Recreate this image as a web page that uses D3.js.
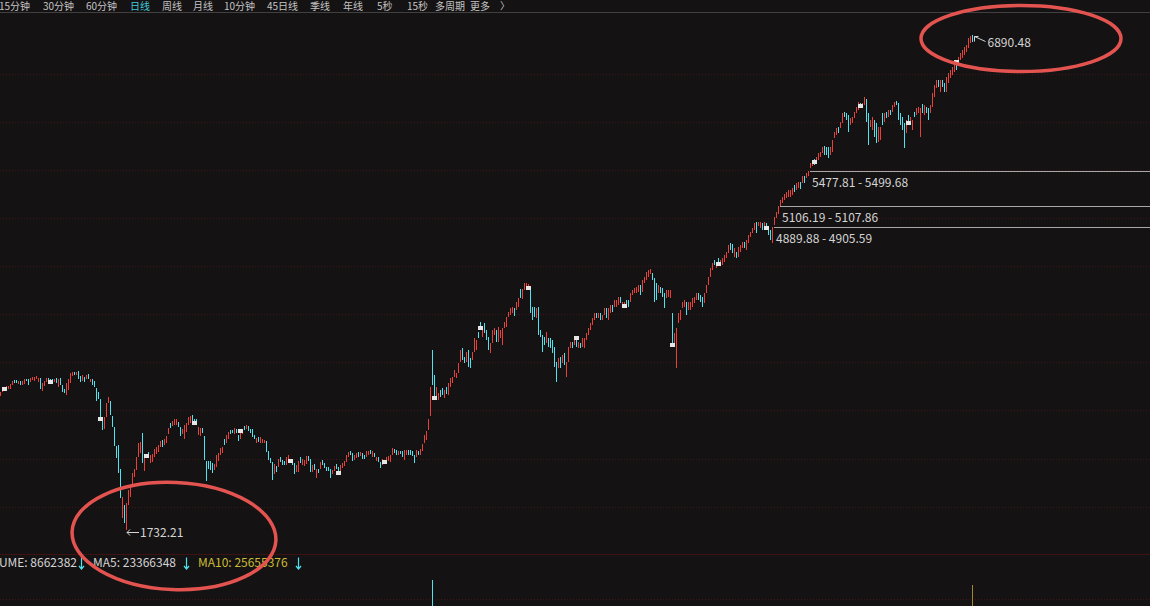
<!DOCTYPE html>
<html><head><meta charset="utf-8">
<script src="https://cdn.jsdelivr.net/npm/d3@7/dist/d3.min.js"></script>
<style>
html,body{margin:0;padding:0;background:#141213;overflow:hidden}
svg{display:block}
text{font-family:"Noto Sans CJK SC","Noto Sans",sans-serif}
</style></head><body>
<svg id="c" width="1150" height="606"></svg>
<script>
// ---------------- DATA ----------------
const periods = ["15分钟","30分钟","60分钟","日线","周线","月线","10分钟","45日线","季线","年线","5秒","15秒","多周期","更多"];
const activePeriod = "日线";

const highs = [3170,3212,3222,3233,3233,3253,3285,3295,3292,3285,
3285,3281,3305,3305,3303,3316,3326,3324,3337,3316,
3316,3264,3285,3316,3316,3305,3303,3305,3316,3305,
3316,3243,3201,3264,3305,3368,3378,3378,3376,3389,
3337,3347,3326,3347,3357,3305,3305,3285,3212,3170,
3097,2909,2909,3056,3118,3077,2920,2805,2608,2618,
2368,2076,1993,2014,2149,2191,2326,2368,2493,2639,
2649,2743,2514,2524,2545,2514,2524,2576,2597,2618,
2660,2670,2680,2712,2795,2847,2868,2889,2891,2858,
2805,2784,2826,2847,2909,2920,2930,2889,2887,2805,
2795,2795,2712,2451,2451,2449,2430,2420,2514,2534,
2587,2597,2680,2722,2753,2774,2772,2795,2784,2722,
2743,2774,2816,2826,2814,2784,2782,2722,2691,2701,
2699,2680,2670,2660,2555,2482,2440,2420,2399,2472,
2493,2461,2451,2493,2514,2472,2449,2430,2409,2451,
2493,2472,2461,2503,2503,2472,2409,2420,2368,2368,
2440,2461,2430,2389,2387,2368,2357,2399,2420,2389,
2409,2430,2451,2514,2545,2555,2534,2514,2534,2545,
2545,2534,2514,2555,2557,2566,2555,2534,2493,2493,
2440,2472,2461,2493,2503,2514,2587,2576,2566,2555,
2555,2553,2566,2568,2566,2564,2555,2514,2566,2555,
2576,2628,2722,2764,2889,3222,3608,3347,3222,3160,
3191,3212,3191,3222,3264,3316,3326,3399,3368,3472,
3608,3629,3535,3587,3608,3524,3587,3733,3712,3795,
3899,3816,3889,3816,3743,3681,3816,3837,3814,3847,
3816,3837,3899,3951,4004,4045,4056,4045,4108,4149,
4243,4243,4306,4304,4295,4264,4056,4054,4045,4056,
3816,3764,3743,3795,3733,3731,3712,3639,3483,3524,
3535,3556,3576,3483,3639,3691,3689,3733,3712,3691,
3681,3733,3735,3785,3837,3889,3941,3993,3993,3995,
3993,3972,4045,4045,4047,4077,4077,4129,4131,4160,
4160,4108,4110,4129,4127,4202,4233,4254,4264,4285,
4285,4337,4368,4420,4441,4452,4410,4358,4306,4285,
4264,4254,4202,4233,4231,4235,3993,3785,3837,3993,
4025,4108,4129,4108,4110,4106,4149,4160,4202,4200,
4181,4160,4202,4285,4368,4462,4514,4546,4525,4566,
4546,4566,4598,4629,4702,4723,4712,4671,4629,4681,
4702,4733,4735,4754,4806,4838,4879,4931,4942,4942,
4944,4931,4940,4933,4890,4858,4889.88,4993,5046,5106.19,
5171,5202,5233,5254,5275,5277,5296,5327,5348,5358,
5356,5421,5419,5452,5477.81,5557,5588,5598,5619,5661,
5671,5723,5733,5723,5721,5723,5796,5879,5921,5931,
5983,6077,6088,6077,6056,6025,6036,6088,6140,6192,
6182,6180,6244,6223,6077,6004,6036,6004,5973,5931,
5933,6077,6075,6088,6109,6107,6161,6192,6202,6182,
6077,6036,5973,6004,6056,6036,6004,6088,6130,6140,
6130,6171,6161,6140,6130,6161,6286,6369,6421,6419,
6421,6421,6390,6452,6494,6525,6557,6598,6609,6661,
6702,6734,6765,6786,6859,6880,6890.48];

const lows = [3128,3170,3181,3191,3201,3201,3243,3264,3262,3253,
3243,3246,3253,3285,3243,3274,3295,3285,3305,3274,
3201,3181,3233,3274,3285,3264,3262,3274,3264,3222,
3243,3170,3160,3139,3191,3264,3337,3347,3345,3305,
3274,3285,3274,3305,3305,3274,3243,3222,3077,3097,
2909,2774,2784,2909,3056,2930,2805,2608,2482,2326,
2066,1857,1805,1732.21,1993,2076,2180,2284,2357,2493,
2534,2430,2347,2482,2493,2430,2440,2493,2524,2545,
2597,2597,2618,2639,2733,2795,2816,2826,2830,2805,
2712,2733,2680,2753,2826,2847,2868,2826,2837,2722,
2712,2743,2461,2243,2368,2357,2326,2357,2389,2451,
2514,2534,2618,2639,2680,2733,2743,2733,2743,2660,
2680,2733,2774,2784,2764,2743,2701,2680,2639,2649,
2639,2641,2639,2545,2461,2430,2253,2316,2337,2389,
2440,2409,2409,2409,2461,2430,2407,2316,2337,2337,
2430,2409,2399,2420,2451,2337,2337,2357,2274,2326,
2368,2409,2378,2347,2345,2274,2316,2347,2368,2305,
2347,2378,2399,2440,2493,2514,2451,2461,2482,2493,
2503,2472,2472,2493,2516,2524,2493,2493,2451,2440,
2378,2409,2420,2440,2451,2440,2514,2534,2514,2514,
2524,2493,2461,2514,2514,2512,2503,2430,2493,2514,
2514,2555,2639,2670,2774,2920,3243,3118,3087,3087,
3118,3139,3108,3149,3139,3222,3264,3326,3316,3368,
3483,3503,3472,3483,3430,3420,3503,3587,3608,3733,
3816,3743,3785,3712,3608,3576,3681,3764,3691,3691,
3733,3660,3837,3847,3951,3972,3993,3962,4025,4056,
4149,4139,4233,4235,4233,3993,3920,3951,3941,3764,
3743,3587,3660,3681,3639,3629,3576,3430,3274,3420,
3420,3472,3451,3326,3483,3629,3627,3660,3639,3629,
3629,3639,3629,3712,3764,3816,3868,3920,3941,3943,
3920,3920,3972,3941,3920,3993,4004,4056,4058,4077,
4098,4056,4058,4045,4056,4108,4181,4202,4202,4212,
4181,4212,4306,4337,4368,4400,4337,4108,4129,4202,
4202,4160,4045,4149,4160,4149,3639,3639,3420,3889,
3920,4045,4056,3972,4025,4023,4056,4098,4129,4127,
4108,4056,4098,4202,4285,4368,4441,4493,4462,4514,
4493,4493,4525,4566,4619,4650,4619,4577,4566,4577,
4629,4671,4673,4650,4723,4785,4827,4858,4827,4895,
4883,4858,4888,4860,4806,4754,4723,4905.59,4983,5025,
5107.86,5140,5171,5192,5202,5204,5223,5254,5275,5296,
5285,5348,5346,5400,5421,5499.68,5525,5535,5557,5588,
5619,5661,5640,5640,5608,5640,5671,5817,5848,5869,
5921,5973,6036,6004,5879,5952,5973,6025,6077,6109,
6140,6130,6161,5983,5744,5931,5900,5827,5765,5775,
5796,5952,5983,6025,6036,6056,6088,6140,6161,6004,
5952,5900,5713,5869,5983,5952,5900,6036,6056,6077,
5827,6077,6056,6077,6004,6077,6140,6244,6338,6348,
6296,6348,6296,6296,6390,6442,6473,6504,6525,6598,
6630,6650,6682,6713,6755,6807,6817];

const opens = [3128,3170,3222,3191,3201,3201,3243,3295,3292,3253,
3285,3246,3253,3305,3303,3274,3295,3285,3305,3274,
3316,3181,3233,3274,3316,3305,3303,3274,3316,3222,
3316,3243,3201,3139,3191,3264,3337,3378,3345,3389,
3337,3285,3326,3305,3357,3274,3305,3285,3212,3170,
3097,2909,2784,2909,3056,3077,2920,2805,2608,2618,
2368,1857,1993,1760,1993,2076,2180,2284,2357,2493,
2534,2743,2347,2524,2545,2430,2440,2493,2524,2545,
2597,2670,2618,2639,2733,2847,2816,2826,2830,2858,
2805,2733,2680,2753,2826,2847,2930,2889,2887,2722,
2712,2795,2712,2451,2451,2449,2430,2357,2389,2451,
2514,2534,2680,2639,2680,2774,2772,2733,2784,2722,
2680,2733,2816,2784,2814,2784,2782,2722,2639,2701,
2639,2641,2639,2660,2555,2482,2440,2316,2399,2389,
2493,2461,2451,2409,2461,2430,2449,2430,2337,2337,
2493,2409,2399,2420,2503,2472,2337,2420,2274,2368,
2368,2461,2430,2389,2387,2368,2316,2347,2420,2389,
2347,2378,2399,2440,2493,2555,2534,2461,2482,2545,
2503,2534,2514,2493,2516,2566,2493,2534,2451,2493,
2440,2409,2420,2440,2451,2440,2514,2576,2566,2514,
2555,2553,2461,2514,2566,2564,2555,2514,2493,2555,
2514,2555,2639,2670,2774,2920,3608,3347,3087,3087,
3191,3212,3108,3222,3139,3222,3264,3326,3316,3368,
3483,3629,3535,3483,3608,3524,3503,3587,3608,3795,
3899,3743,3889,3816,3743,3576,3681,3764,3814,3691,
3733,3660,3837,3847,3951,3972,3993,4045,4025,4056,
4243,4139,4233,4235,4233,4264,4056,4054,3941,4056,
3816,3764,3743,3681,3733,3731,3712,3639,3483,3420,
3535,3472,3576,3326,3483,3629,3689,3660,3712,3629,
3681,3639,3629,3712,3764,3816,3868,3920,3993,3943,
3993,3920,3972,4045,3920,3993,4077,4056,4058,4077,
4160,4056,4058,4129,4127,4108,4181,4202,4202,4212,
4285,4212,4306,4337,4368,4400,4410,4358,4306,4202,
4264,4254,4202,4149,4160,4149,3993,3639,3420,3889,
3920,4045,4056,4108,4025,4023,4056,4098,4129,4200,
4181,4160,4098,4202,4285,4368,4441,4546,4462,4566,
4493,4493,4525,4566,4619,4723,4712,4577,4629,4577,
4629,4671,4735,4650,4723,4785,4827,4858,4942,4895,
4883,4931,4888,4933,4890,4858,4723,4905.59,4983,5025,
5107.86,5140,5171,5192,5202,5204,5223,5327,5275,5296,
5356,5348,5419,5400,5421,5499.68,5525,5598,5557,5588,
5619,5661,5733,5723,5721,5640,5671,5817,5848,5931,
5921,5973,6088,6077,6056,5952,5973,6025,6077,6109,
6182,6130,6161,6223,6077,5931,5900,6004,5973,5775,
5796,6077,5983,6088,6036,6107,6088,6140,6202,6182,
6077,6036,5973,5869,6056,5952,5900,6088,6056,6077,
5827,6171,6056,6140,6130,6077,6140,6244,6338,6419,
6296,6421,6390,6296,6390,6442,6473,6504,6609,6598,
6630,6650,6682,6713,6755,6807,6880];

const closes = [3170,3212,3181,3233,3233,3253,3285,3264,3262,3285,
3243,3281,3305,3285,3243,3316,3326,3324,3337,3316,
3201,3264,3285,3316,3285,3264,3262,3305,3264,3305,
3243,3170,3160,3264,3305,3368,3378,3347,3376,3305,
3274,3347,3274,3347,3305,3305,3243,3222,3077,3097,
2909,2774,2909,3056,3118,2930,2805,2608,2482,2326,
2066,2076,1805,2014,2149,2191,2326,2368,2493,2639,
2649,2430,2514,2482,2493,2514,2524,2576,2597,2618,
2660,2597,2680,2712,2795,2795,2868,2889,2891,2805,
2712,2784,2826,2847,2909,2920,2868,2826,2837,2805,
2795,2743,2461,2243,2368,2357,2326,2420,2514,2534,
2587,2597,2618,2722,2753,2733,2743,2795,2743,2660,
2743,2774,2774,2826,2764,2743,2701,2680,2691,2649,
2699,2680,2670,2545,2461,2430,2253,2420,2337,2472,
2440,2409,2409,2493,2514,2472,2407,2316,2409,2451,
2430,2472,2461,2503,2451,2337,2409,2357,2368,2326,
2440,2409,2378,2347,2345,2274,2357,2399,2368,2305,
2409,2430,2451,2514,2545,2514,2451,2514,2534,2493,
2545,2472,2472,2555,2557,2524,2555,2493,2493,2440,
2378,2472,2461,2493,2503,2514,2587,2534,2514,2555,
2524,2493,2566,2568,2514,2512,2503,2430,2566,2514,
2576,2628,2722,2764,2889,3222,3243,3118,3222,3160,
3118,3139,3191,3149,3264,3316,3326,3399,3368,3472,
3608,3503,3472,3587,3430,3420,3587,3733,3712,3733,
3816,3816,3785,3712,3608,3681,3816,3837,3691,3847,
3816,3837,3899,3951,4004,4045,4056,3962,4108,4149,
4149,4243,4306,4304,4295,3993,3920,3951,4045,3764,
3743,3587,3660,3795,3639,3629,3576,3430,3274,3524,
3420,3556,3451,3483,3639,3691,3627,3733,3639,3691,
3629,3733,3735,3785,3837,3889,3941,3993,3941,3995,
3920,3972,4045,3941,4047,4077,4004,4129,4131,4160,
4098,4108,4110,4045,4056,4202,4233,4254,4264,4285,
4181,4337,4368,4420,4441,4452,4337,4108,4129,4285,
4202,4160,4045,4233,4231,4235,3639,3785,3837,3993,
4025,4108,4129,3972,4110,4106,4149,4160,4202,4127,
4108,4056,4202,4285,4368,4462,4514,4493,4525,4514,
4546,4566,4598,4629,4702,4650,4619,4671,4566,4681,
4702,4733,4673,4754,4806,4838,4879,4931,4827,4942,
4944,4858,4940,4860,4806,4754,4889.88,4993,5046,5106.19,
5171,5202,5233,5254,5275,5277,5296,5254,5348,5358,
5285,5421,5346,5452,5477.81,5557,5588,5535,5619,5661,
5671,5723,5640,5640,5608,5723,5796,5879,5921,5869,
5983,6077,6036,6004,5879,6025,6036,6088,6140,6192,
6140,6180,6244,5983,5744,6004,6036,5827,5765,5931,
5933,5952,6075,6025,6109,6056,6161,6192,6161,6004,
5952,5900,5713,6004,5983,6036,6004,6036,6130,6140,
6130,6077,6161,6077,6004,6161,6286,6369,6421,6348,
6421,6348,6296,6452,6494,6525,6557,6598,6525,6661,
6702,6734,6765,6786,6859,6880,6817];

// price gaps (lower edge, upper edge, bar index where gap starts)
const gapLow  = [4889.88, 5106.19, 5477.81];
const gapHigh = [4905.59, 5107.86, 5499.68];
const gapBar  = [386, 389, 404];

// white event markers: bar index and price
const markerBar   = [2,25,50,73,97,120,145,169,192,217,240,264,288,312,336,359,383,407,430,454,478];
const markerPrice = [3201,3274,2889,2503,2852,2764,2451,2326,2440,3108,3837,4254,3733,4066,3655,4504,4879,5572,6155,5973,6609];

// volume panel
const volumeLast = 8662382, volumeMA5 = 23366348, volumeMA10 = 25655376;
const volumeBar = [216];
const volumeValue = [109000000];

// ---------------- DRAW ----------------
const W = 1150, H = 606;
const RED = "#e8403a", CYAN = "#4fe3f0", TXT = "#d4d4d4";
const svg = d3.select("#c");

// toolbar
const tabX = [-1, 43, 86, 130, 162, 193, 224, 267, 310, 343, 377, 407, 435, 470];
const tb = svg.append("g").attr("font-size", 10);
periods.forEach((p, k) => {
  tb.append("text").attr("x", tabX[k]).attr("y", 9.5)
    .attr("fill", p === activePeriod ? "#45c8dc" : "#c4c4c4").text(p);
});
tb.append("text").attr("x", 500).attr("y", 9.5).attr("fill", "#c4c4c4").text("〉");
svg.append("line").attr("x1", 0).attr("x2", W).attr("y1", 12.5).attr("y2", 12.5)
  .attr("stroke", "#404040").attr("stroke-width", 1);

// grid
const panelTop = 25.6, panelBottom = 554.7;
const gridY = d3.range(1, 11).map(k => panelTop + k * (panelBottom - panelTop) / 11);
svg.append("g").selectAll("line").data(gridY).join("line")
  .attr("x1", 0).attr("x2", W)
  .attr("y1", d => Math.round(d) + 0.5).attr("y2", d => Math.round(d) + 0.5)
  .attr("stroke", "#3e1616").attr("stroke-dasharray", "1,2");
svg.append("line").attr("x1", 0).attr("x2", W).attr("y1", 554.5).attr("y2", 554.5)
  .attr("stroke", "#3e1212");
svg.append("line").attr("x1", 0).attr("x2", W).attr("y1", 599.5).attr("y2", 599.5)
  .attr("stroke", "#3e1616").attr("stroke-dasharray", "1,2");

// scales
const N = highs.length;
const xs = d3.scaleLinear().domain([0, N - 1]).range([0, 972]);
const ys = d3.scaleLinear().domain([d3.min(lows), d3.max(highs)]).range([530, 35]);
const vs = d3.scaleLinear().domain([0, 120000000]).range([700, 568]);

// candles (thin: single line high-low, coloured by direction)
svg.append("g").selectAll("line").data(d3.range(N)).join("line")
  .attr("x1", i => Math.round(xs(i)) + 0.5)
  .attr("x2", i => Math.round(xs(i)) + 0.5)
  .attr("y1", i => Math.round(ys(highs[i])))
  .attr("y2", i => Math.max(Math.round(ys(highs[i])) + 1, Math.round(ys(lows[i]))))
  .attr("stroke-width", 1)
  .style("stroke", i => closes[i] >= opens[i] ? RED : CYAN);

// markers
svg.append("g").attr("shape-rendering", "crispEdges")
  .selectAll("rect").data(markerBar).join("rect")
  .attr("x", (b) => Math.round(xs(b)) - 2)
  .attr("y", (b, k) => Math.round(ys(markerPrice[k])) - 2)
  .attr("width", 5).attr("height", 4).attr("fill", "#e6e6e6");

// gaps
gapLow.forEach((lo, k) => {
  const gx = Math.round(xs(gapBar[k])) + 2;
  const gy = Math.round(ys(lo)) + 0.5;
  svg.append("line").attr("x1", gx).attr("x2", W).attr("y1", gy).attr("y2", gy)
    .attr("stroke", "#a8a8a8");
  svg.append("text").attr("x", gx + 2).attr("y", gy + 15).attr("font-size", 12)
    .attr("fill", TXT).text(`${lo.toFixed(2)} - ${gapHigh[k].toFixed(2)}`);
});

// extreme labels
const hiIdx = d3.maxIndex(highs), loIdx = d3.minIndex(lows);
const hx = Math.round(xs(hiIdx)) + 2.5, hy = Math.round(ys(highs[hiIdx])) + 1.5;
svg.append("path").attr("d", `M${hx},${hy}h4M${hx},${hy}v5M${hx},${hy}L${hx+11},${hy+5}`)
  .attr("stroke", TXT).attr("fill", "none");
svg.append("text").attr("x", hx + 13).attr("y", hy + 10.5).attr("font-size", 12)
  .attr("fill", TXT).text(highs[hiIdx].toFixed(2));
const lx = Math.round(xs(loIdx)) + 1, ly = Math.round(ys(lows[loIdx])) + 2.5;
svg.append("path").attr("d", `M${lx},${ly}H${lx+12}M${lx},${ly}l3,-3M${lx},${ly}l3,3`)
  .attr("stroke", TXT).attr("fill", "none");
svg.append("text").attr("x", lx + 13).attr("y", ly + 4.5).attr("font-size", 12)
  .attr("fill", TXT).text(lows[loIdx].toFixed(2));

// volume bars
svg.append("g").attr("shape-rendering", "crispEdges")
  .selectAll("rect").data(volumeBar).join("rect")
  .attr("x", b => Math.round(xs(b)))
  .attr("y", (b, k) => vs(volumeValue[k]))
  .attr("width", 1)
  .attr("height", (b, k) => 700 - vs(volumeValue[k]))
  .attr("fill", (b) => closes[b] >= opens[b] ? RED : CYAN);
// thin marker line at the latest bar in the volume panel
svg.append("line")
  .attr("x1", Math.round(xs(N - 1)) + 0.5).attr("x2", Math.round(xs(N - 1)) + 0.5)
  .attr("y1", 585).attr("y2", H)
  .attr("stroke", "#a5842e").attr("stroke-width", 1);

// volume texts with down arrows
const vt = svg.append("g").attr("font-size", 12);
const arrow = (cx) => vt.append("path")
  .attr("d", `M${cx},557.5V569M${cx-2.5},566L${cx},569L${cx+2.5},566`)
  .attr("stroke", CYAN).attr("fill", "none").attr("stroke-width", 1.2);
vt.append("text").attr("x", 77).attr("y", 566.5).attr("text-anchor", "end").attr("fill", TXT)
  .text("VOLUME: " + volumeLast);
arrow(81.5);
vt.append("text").attr("x", 93).attr("y", 566.5).attr("fill", TXT).text("MA5: " + volumeMA5);
arrow(186.5);
vt.append("text").attr("x", 198).attr("y", 566.5).attr("fill", "#cbbb35").text("MA10: " + volumeMA10);
arrow(298.5);

// annotation ellipses
svg.append("ellipse").attr("cx", 1021).attr("cy", 38.5).attr("rx", 100).attr("ry", 33)
  .attr("fill", "none").attr("stroke", "#e35450").attr("stroke-width", 3.5);
svg.append("ellipse").attr("cx", 0).attr("cy", 0).attr("rx", 102).attr("ry", 53.5)
  .attr("transform", "translate(174,536) rotate(2.5)")
  .attr("fill", "none").attr("stroke", "#e35450").attr("stroke-width", 3.5);
</script>
</body></html>
